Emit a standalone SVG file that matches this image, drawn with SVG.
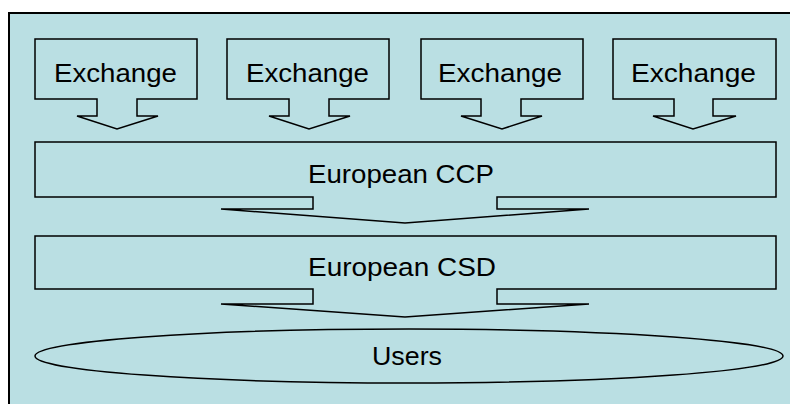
<svg xmlns="http://www.w3.org/2000/svg" width="790" height="404" viewBox="0 0 790 404">
<style>
.shape{fill:#BADFE3;stroke:#000;stroke-width:1.5;stroke-linejoin:miter}
.lbl{font-family:"Liberation Sans",Arial,sans-serif;font-size:26px;fill:#000}
</style>
<rect x="0" y="0" width="790" height="404" fill="#fff"/>
<rect id="background" x="9" y="13" width="800" height="400" fill="#BADFE3" stroke="#000" stroke-width="2"/>
<g id="exchange1">
<path class="shape" d="M35,39 H197 V99 H137 V116 H158 L117,129 L77,116 H97 V99 H35 Z"/>
<text class="lbl" x="54" y="82" textLength="123" lengthAdjust="spacingAndGlyphs">Exchange</text>
</g>
<g id="exchange2">
<path class="shape" d="M227,39 H389 V99 H329 V116 H350 L309,129 L269,116 H289 V99 H227 Z"/>
<text class="lbl" x="246" y="82" textLength="123" lengthAdjust="spacingAndGlyphs">Exchange</text>
</g>
<g id="exchange3">
<path class="shape" d="M421,39 H583 V99 H521 V116 H542 L502,129 L461,116 H481 V99 H421 Z"/>
<text class="lbl" x="438" y="82" textLength="124" lengthAdjust="spacingAndGlyphs">Exchange</text>
</g>
<g id="exchange4">
<path class="shape" d="M613,39 H776 V99 H713 V116 H736 L693,129 L653,116 H674 V99 H613 Z"/>
<text class="lbl" x="631" y="82" textLength="125" lengthAdjust="spacingAndGlyphs">Exchange</text>
</g>
<g id="ccp">
<path class="shape" d="M35,142 H776 V197 H497 V209 H589 L405,223 L221,209 H313 V197 H35 Z"/>
<text class="lbl" x="308" y="183" textLength="186" lengthAdjust="spacingAndGlyphs">European CCP</text>
</g>
<g id="csd">
<path class="shape" d="M35,236 H776 V289 H497 V304 H589 L405,317 L221,304 H313 V289 H35 Z"/>
<text class="lbl" x="308" y="276" textLength="188" lengthAdjust="spacingAndGlyphs">European CSD</text>
</g>
<g id="users">
<ellipse class="shape" cx="409" cy="356" rx="374" ry="27"/>
<text class="lbl" x="372" y="365" textLength="70" lengthAdjust="spacingAndGlyphs">Users</text>
</g>
</svg>
